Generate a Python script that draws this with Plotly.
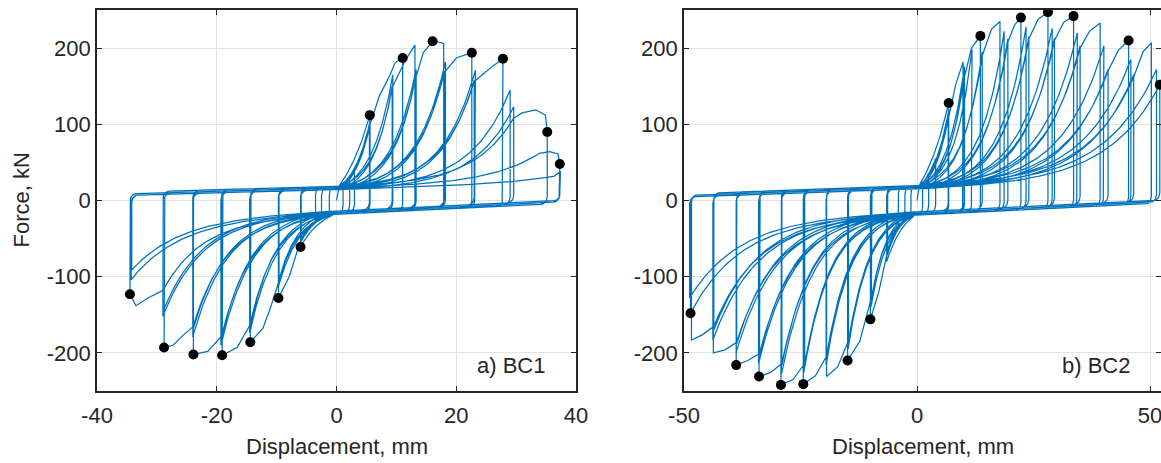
import numpy as np
import plotly.graph_objects as go

# ------------------------------------------------------------------
# Cyclic test records of two bolted connections (BC1, BC2).
# Each excursion is given as a list of (displacement, force) points:
# the first point is where the slip-stiffening branch meets the
# backbone, the last point is the load reversal.
# ------------------------------------------------------------------

# ---------------- BC1 ----------------
bc1_pos_paths = [
    [(1.1, 22)],
    [(2.2, 30)],
    [(3.0, 40)],
    [(5.56, 112)],
    [(5.6, 104)],
    [(5.5, 96)],
    [(5.6, 100), (7.2, 138), (8.9, 164), (9.8, 181), (11.05, 187)],
    [(9.4, 165)],
    [(9.3, 150)],
    [(9.3, 148), (11.5, 184), (12.6, 199), (13.1, 204)],
    [(13.3, 172)],
    [(13.2, 160)],
    [(13.2, 160), (14.5, 194), (16.05, 209), (17.0, 208), (17.9, 206)],
    [(18.2, 182)],
    [(18.0, 170)],
    [(18.0, 168), (20.0, 187), (22.6, 194)],
    [(23.2, 171)],
    [(23.0, 158)],
    [(23.0, 156), (24.5, 166), (26.2, 177), (27.8, 186)],
    [(29.0, 145)],
    [(29.6, 123)],
    [(29.6, 108), (31.0, 115), (33.3, 119), (34.9, 112), (35.2, 90)],
    [(33.9, 62), (35.6, 64), (37.0, 61), (37.3, 48)],
    [(36.4, 32), (37.4, 38)],
]
bc1_pos_sharp = [1.5, 1.5, 1.5, 1.0, 1.8, 2.0, 2.0, 2.5, 2.8, 2.8, 3.0, 3.2,
                 3.2, 3.5, 3.6, 3.6, 4.0, 4.0, 4.0, 4.2, 4.2, 4.2, 4.0, 4.0]

bc1_neg_paths = [
    [(-1.2, -20)],
    [(-2.5, -23)],
    [(-3.5, -27)],
    [(-6.0, -61)],
    [(-6.0, -55)],
    [(-5.9, -50)],
    [(-5.9, -50), (-7.9, -100), (-9.7, -128)],
    [(-9.7, -113)],
    [(-9.6, -104)],
    [(-9.7, -108), (-11.0, -140), (-12.3, -168), (-14.4, -186)],
    [(-14.5, -174)],
    [(-14.4, -165)],
    [(-14.5, -164), (-16.6, -193), (-19.1, -203)],
    [(-19.3, -190)],
    [(-19.2, -180)],
    [(-19.2, -178), (-21.5, -198), (-23.9, -202)],
    [(-24.0, -179)],
    [(-24.0, -170)],
    [(-24.0, -166), (-25.5, -176), (-27.3, -190), (-28.8, -193)],
    [(-29.0, -152)],
    [(-29.0, -146)],
    [(-29.0, -118), (-31.5, -128), (-33.5, -138), (-34.5, -123)],
    [(-34.3, -104)],
    [(-34.2, -91)],
]
bc1_neg_sharp = [1.5, 1.5, 1.5, 1.5, 2.0, 2.0, 2.0, 2.5, 2.8, 2.8, 3.0, 3.2,
                 3.2, 3.5, 3.6, 3.6, 4.0, 4.0, 4.0, 4.2, 4.2, 4.2, 4.0, 4.0]

# friction level of each cycle (first cycle of an amplitude grips hardest)
bc1_friction = [0, 0, 0, 2, 0, -2, 2, 0, -2, 2, 0, -2,
                2, 0, -2, 2, 0, -2, 2, 0, -2, 2, 0, -2]
bc1_upper = (16.5, 0.22)   # slip plateau on reloading: F = f0 + k*d
bc1_lower = (-16.0, 0.38)

bc1_mark_disp = [5.56, 11.05, 16.05, 22.6, 27.8, 35.2, 37.3,
                 -6.0, -9.7, -14.4, -19.1, -23.9, -28.8, -34.5]
bc1_mark_force = [112, 187, 209, 194, 186, 90, 48,
                  -61, -128, -186, -203, -202, -193, -123]

# ---------------- BC2 ----------------
bc2_pos_paths = [
    [(1.2, 24)],
    [(2.5, 36)],
    [(4.0, 55)],
    [(6.8, 128)],
    [(6.8, 118)],
    [(6.7, 108)],
    [(6.8, 110), (8.3, 152), (9.9, 182)],
    [(10.2, 176)],
    [(10.1, 165)],
    [(10.1, 160), (11.7, 200), (13.6, 216)],
    [(11.8, 198)],
    [(14.0, 195)],
    [(14.0, 190), (16.0, 225), (17.8, 235)],
    [(18.7, 222)],
    [(19.5, 212)],
    [(19.5, 208), (21.0, 231), (22.3, 240)],
    [(23.4, 228)],
    [(24.0, 215)],
    [(24.0, 212), (26.0, 238), (28.1, 247)],
    [(29.0, 226)],
    [(29.5, 213)],
    [(29.5, 210), (31.5, 234), (33.6, 242)],
    [(34.4, 220)],
    [(35.0, 203)],
    [(35.0, 200), (37.0, 222), (39.3, 233)],
    [(40.1, 203)],
    [(41.0, 172)],
    [(41.0, 170), (43.2, 197), (45.4, 210)],
    [(45.9, 185)],
    [(46.5, 165)],
    [(46.5, 162), (48.5, 195), (50.3, 207)],
    [(51.4, 172)],
    [(52.1, 152)],
]
bc2_pos_sharp = [1.5, 1.5, 1.2, 1.0, 1.8, 2.0, 2.0, 2.5, 2.8, 2.8, 3.0, 3.0,
                 3.0, 3.5, 3.6, 3.6, 4.0, 4.0, 4.0, 4.0, 4.2, 4.2, 4.2, 4.3,
                 4.3, 4.3, 4.4, 4.4, 4.4, 4.5, 4.5, 4.5, 4.5]

bc2_neg_paths = [
    [(-1.3, -20)],
    [(-2.6, -25)],
    [(-4.0, -36)],
    [(-6.5, -80)],
    [(-6.4, -72)],
    [(-6.3, -65)],
    [(-6.3, -66), (-8.2, -120), (-10.0, -156)],
    [(-9.9, -140)],
    [(-9.8, -130)],
    [(-9.8, -128), (-12.3, -185), (-14.9, -210)],
    [(-14.8, -195)],
    [(-14.7, -186)],
    [(-14.7, -184), (-17.0, -218), (-19.4, -231)],
    [(-19.5, -216)],
    [(-19.4, -206)],
    [(-19.4, -204), (-21.8, -230), (-24.4, -241)],
    [(-24.3, -226)],
    [(-24.1, -216)],
    [(-24.1, -214), (-26.6, -235), (-29.2, -242)],
    [(-29.1, -228)],
    [(-29.0, -216)],
    [(-29.0, -214), (-31.5, -226), (-33.9, -231)],
    [(-34.0, -214)],
    [(-33.8, -203)],
    [(-33.8, -201), (-36.3, -210), (-38.8, -216)],
    [(-38.8, -199)],
    [(-38.7, -188)],
    [(-38.7, -186), (-41.2, -196), (-43.7, -200)],
    [(-43.8, -183)],
    [(-43.6, -170)],
    [(-43.6, -165), (-46.0, -176), (-48.4, -183)],
    [(-48.6, -148)],
    [(-48.8, -128)],
]
bc2_neg_sharp = [1.5, 1.5, 1.2, 1.5, 2.0, 2.0, 2.0, 2.5, 2.8, 2.8, 3.0, 3.0,
                 3.0, 3.5, 3.6, 3.6, 4.0, 4.0, 4.0, 4.0, 4.2, 4.2, 4.2, 4.3,
                 4.3, 4.3, 4.4, 4.4, 4.4, 4.5, 4.5, 4.5, 4.5]

bc2_friction = [0, 0, 0, 2, 0, -2, 2, 0, -2, 2, 0, -2, 2, 0, -2, 2, 0, -2,
                2, 0, -2, 2, 0, -2, 2, 0, -2, 2, 0, -2, 2, 0, -2]
bc2_upper = (17.5, 0.22)
bc2_lower = (-17.0, 0.30)

bc2_mark_disp = [6.8, 13.6, 22.3, 28.1, 33.6, 45.4, 52.1,
                 -10.0, -14.9, -24.4, -29.2, -33.9, -38.8, -48.6]
bc2_mark_force = [128, 216, 240, 247, 242, 210, 152,
                  -156, -210, -241, -242, -231, -216, -148]

# axis ticks
bc1_xticks = [-40, -20, 0, 20, 40]
bc2_xticks = [-50, 0, 50]
force_ticks = [-200, -100, 0, 100, 200]


# ------------------------------------------------------------------
# hysteresis loop assembly
# ------------------------------------------------------------------
def plateau(level, shift):
    f0, k = level
    return lambda d: f0 + shift + k * np.asarray(d, dtype=float)


def stiffening(base, d_start, knee, sharp, n=70):
    """Slip plateau that stiffens exponentially up to the knee point."""
    kd, kf = knee
    t = np.linspace(0.0, 1.0, n)
    d = d_start + (kd - d_start) * t
    g = np.expm1(sharp * t) / np.expm1(sharp)
    return d, base(d) + (kf - base(kd)) * g


def slip_start(knee_d):
    """Displacement at which the bolts start bearing again."""
    s = np.sign(knee_d)
    return s * min(max(0.07 * abs(knee_d), 0.3), 2.5)


def reversal(d_turn, base, direction, n=14):
    """Near-vertical unloading that bends into the next slip plateau."""
    rx = min(1.1, 0.35 * abs(d_turn))
    ry = 10.0
    cx = d_turn - direction * rx
    cy = float(base(cx)) + direction * ry
    th = np.linspace(0.0, np.pi / 2, n)
    return cx + direction * rx * np.cos(th), cy - direction * ry * np.sin(th)


def build_record(pos_paths, pos_sharp, neg_paths, neg_sharp, friction,
                 upper, lower):
    xs, ys = [np.array([0.0])], [np.array([0.0])]
    n = len(pos_paths)
    for i in range(n):
        up = plateau(upper, friction[i])
        lo = plateau(lower, -friction[i])
        up_next = plateau(upper, friction[min(i + 1, n - 1)])

        # push towards positive displacement
        path = pos_paths[i]
        d, f = stiffening(up, slip_start(path[0][0]), path[0], pos_sharp[i])
        xs.append(d); ys.append(f)
        xs.append(np.array([p[0] for p in path[1:]]))
        ys.append(np.array([p[1] for p in path[1:]], dtype=float))
        d, f = reversal(path[-1][0], lo, +1)
        xs.append(d); ys.append(f)

        # pull towards negative displacement
        path = neg_paths[i]
        d, f = stiffening(lo, slip_start(path[0][0]), path[0], neg_sharp[i])
        xs.append(d); ys.append(f)
        xs.append(np.array([p[0] for p in path[1:]]))
        ys.append(np.array([p[1] for p in path[1:]], dtype=float))
        d, f = reversal(path[-1][0], up_next, -1)
        xs.append(d); ys.append(f)
    return np.concatenate(xs), np.concatenate(ys)


bc1_x, bc1_y = build_record(bc1_pos_paths, bc1_pos_sharp, bc1_neg_paths,
                            bc1_neg_sharp, bc1_friction, bc1_upper, bc1_lower)
bc2_x, bc2_y = build_record(bc2_pos_paths, bc2_pos_sharp, bc2_neg_paths,
                            bc2_neg_sharp, bc2_friction, bc2_upper, bc2_lower)

# ------------------------------------------------------------------
# figure
# ------------------------------------------------------------------
BLUE = "#0072BD"
INK = "#262626"
GRID = "#e3e3e3"
FONT = "Liberation Sans, Arial, sans-serif"
W, H = 1161, 463

fig = go.Figure()
fig.add_trace(go.Scatter(x=bc1_x, y=bc1_y, mode="lines",
                         line=dict(color=BLUE, width=1.25),
                         xaxis="x", yaxis="y", hoverinfo="skip"))
fig.add_trace(go.Scatter(x=bc1_mark_disp, y=bc1_mark_force, mode="markers",
                         marker=dict(color="black", size=10),
                         xaxis="x", yaxis="y"))
fig.add_trace(go.Scatter(x=bc2_x, y=bc2_y, mode="lines",
                         line=dict(color=BLUE, width=1.25),
                         xaxis="x2", yaxis="y2", hoverinfo="skip"))
fig.add_trace(go.Scatter(x=bc2_mark_disp, y=bc2_mark_force, mode="markers",
                         marker=dict(color="black", size=10),
                         xaxis="x2", yaxis="y2"))


def hyphen_labels(vals):
    return [str(v) for v in vals]


def axis(vals, **kw):
    a = dict(showline=True, linecolor=INK, linewidth=1.6, mirror="ticks",
             ticks="inside", ticklen=5, tickwidth=1.2, tickcolor=INK,
             showgrid=True, gridcolor=GRID, gridwidth=1, zeroline=False,
             automargin=False, tickmode="array", tickvals=vals,
             ticktext=hyphen_labels(vals),
             tickfont=dict(family=FONT, size=22, color=INK))
    a.update(kw)
    return a


title_font = dict(family=FONT, size=22, color=INK)

fig.update_layout(
    width=W, height=H, showlegend=False,
    paper_bgcolor="white", plot_bgcolor="white",
    margin=dict(l=0, r=0, t=10, b=72, pad=0),
    xaxis=axis(bc1_xticks, domain=[97 / W, 576 / W], range=[-40, 40],
               anchor="y", ticklabelstandoff=4),
    yaxis=axis(force_ticks, domain=[0, 1], range=[-250, 250], anchor="x"),
    xaxis2=axis(bc2_xticks, domain=[684 / W, 1.0], range=[-50, 52.36],
                anchor="y2", ticklabelstandoff=4, ticklabeloverflow="allow"),
    yaxis2=axis(force_ticks, domain=[0, 1], range=[-250, 250], anchor="x2"),
    annotations=[
        dict(text="Displacement, mm", xref="x domain", yref="paper",
             x=0.5, y=-0.145, xanchor="center", yanchor="middle",
             showarrow=False, font=title_font),
        dict(text="Displacement, mm", xref="x2 domain", yref="paper",
             x=0.5, y=-0.145, xanchor="center", yanchor="middle",
             showarrow=False, font=title_font),
        dict(text="Force, kN", xref="paper", yref="y domain",
             x=21 / W, y=0.5, xanchor="center", yanchor="middle",
             textangle=-90, showarrow=False, font=title_font),
        dict(text="a) BC1", xref="x domain", yref="y domain", x=0.94,
             y=0.066, xanchor="right", yanchor="middle", showarrow=False,
             font=title_font),
        dict(text="b) BC2", xref="x2 domain", yref="y2 domain", x=0.94,
             y=0.066, xanchor="right", yanchor="middle", showarrow=False,
             font=title_font),
    ],
)

fig.write_html("out.html")
